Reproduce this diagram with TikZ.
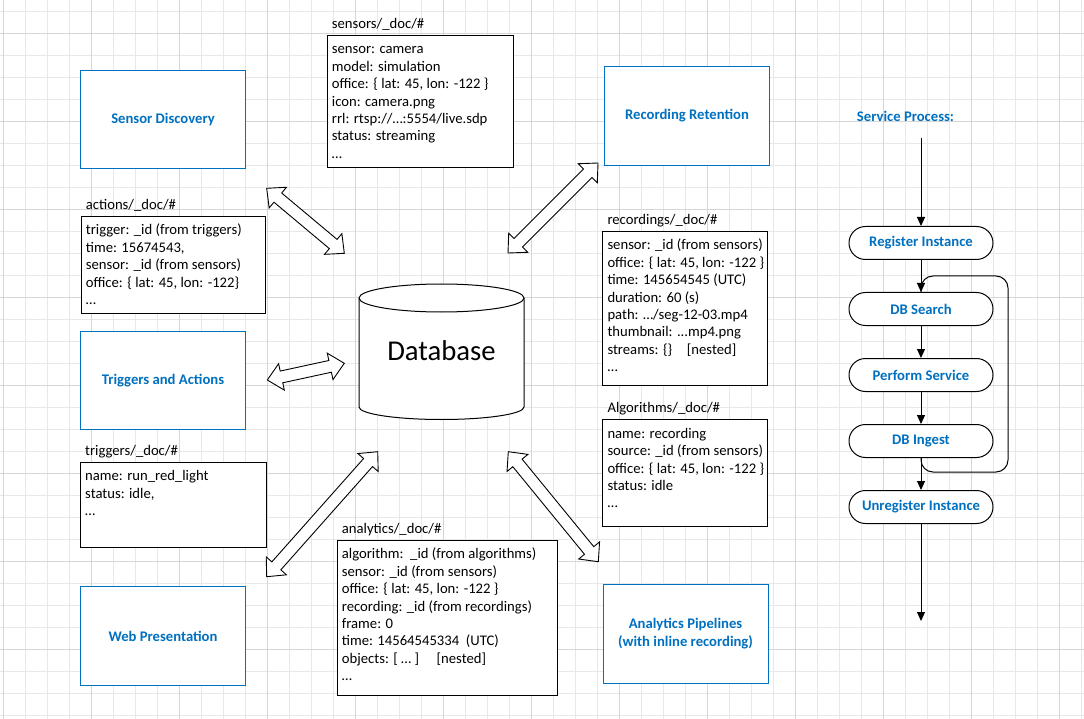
\documentclass[tikz,border=0pt]{standalone}
\usepackage{fontspec}
\setmainfont{Carlito}
\usetikzlibrary{calc,arrows.meta}
\definecolor{vblue}{RGB}{0,112,192}
\definecolor{gridminor}{RGB}{232,232,232}
\definecolor{gridmajor}{RGB}{214,214,214}
\newcommand{\firstl}{\rule{0pt}{13pt}}
\newcommand{\blockarrow}[2]{%
  \path ($(#1)!14.5pt!(#2)$) coordinate (ba1) ($(#2)!14.5pt!(#1)$) coordinate (ba2);
  \draw[blockarrowstyle] (#1)
    -- ($(ba1)!13.5pt!90:(#2)$) -- ($(ba1)!6pt!90:(#2)$)
    -- ($(ba2)!6pt!-90:(#1)$) -- ($(ba2)!13.5pt!-90:(#1)$)
    -- (#2)
    -- ($(ba2)!13.5pt!90:(#1)$) -- ($(ba2)!6pt!90:(#1)$)
    -- ($(ba1)!6pt!-90:(#2)$) -- ($(ba1)!13.5pt!-90:(#2)$)
    -- cycle;}
\begin{document}
\begin{tikzpicture}[x=1pt,y=-1pt,
  txt/.style={font=\fontsize{14.67pt}{17.4pt}\selectfont},
  doctitle/.style={txt,anchor=base west,inner sep=0pt},
  doccontent/.style={txt,anchor=north west,inner sep=0pt,align=left},
  docbox/.style={draw=black,line width=1pt,fill=white,anchor=north west,inner sep=0pt},
  bluebox/.style={draw=vblue,line width=1pt,fill=white,anchor=north west,inner sep=0pt,
    font=\fontsize{14.67pt}{18.4pt}\selectfont\bfseries,text=vblue,align=center},
  pill/.style={draw=black,line width=1pt,fill=white,rounded corners=16.5pt,
    minimum width=144pt,minimum height=33pt,inner sep=0pt,
    font=\fontsize{14.67pt}{17.4pt}\selectfont\bfseries,text=vblue},
  flow/.style={line width=1pt,-{Triangle[length=9pt,width=8pt]}},
  blockarrowstyle/.style={draw=black,fill=white,line width=0.9pt,line join=miter},
  gridline/.style={line width=0.8pt}
]
\useasboundingbox (0,0) rectangle (1084,719);
\fill[white] (0,0) rectangle (1084,719);
% grid
\foreach \i in {0,...,49} {\draw[gridline,gridminor] ({3.3+22*\i},0) -- ({3.3+22*\i},719);}
\foreach \j in {0,...,32} {\draw[gridline,gridminor] (0,{11.3+22*\j}) -- (1084,{11.3+22*\j});}
\foreach \i in {0,...,12} {\draw[gridline,gridmajor] ({3.3+88*\i},0) -- ({3.3+88*\i},719);}
\foreach \j in {0,...,7} {\draw[gridline,gridmajor] (0,{33.3+88*\j}) -- (1084,{33.3+88*\j});}

% blue service boxes
\node[bluebox,minimum width=165pt,minimum height=98pt] (sdisc) at (80,70) {Sensor Discovery};
\node[bluebox,minimum width=165pt,minimum height=98pt] (trig) at (80,331) {Triggers and Actions};
\node[bluebox,minimum width=165pt,minimum height=99pt] (web) at (80,586) {Web Presentation};
\node[bluebox,minimum width=165pt,minimum height=99pt] (ret) at (604,66) {Recording Retention};
\node[bluebox,minimum width=165pt,minimum height=99pt] (ana) at (602.5,583.5) {Analytics Pipelines\\(with inline recording)};

% sensors
\node[docbox,minimum width=186pt,minimum height=131.7pt] (sensB) at (326.7,35) {};
\node[doctitle] (sensT) at (331.7,28.4) {sensors/\_doc/\#};
\node[doccontent] (sensC) at (331.7,40.7) {\firstl sensor: camera\\model: simulation\\office: \{ lat: 45, lon: -122 \}\\icon: camera.png\\rrl: rtsp://…:5554/live.sdp\\status: streaming\\…};

% actions
\node[docbox,minimum width=184.6pt,minimum height=97.3pt] (actB) at (80.7,216) {};
\node[doctitle] (actT) at (85.7,209.4) {actions/\_doc/\#};
\node[doccontent] (actC) at (85.7,221.7) {\firstl trigger: \_id (from triggers)\\time: 15674543,\\sensor: \_id (from sensors)\\office: \{ lat: 45, lon: -122\}\\…};

% triggers
\node[docbox,minimum width=186pt,minimum height=85pt] (trgB) at (80,462) {};
\node[doctitle] (trgT) at (85,455.4) {triggers/\_doc/\#};
\node[doccontent] (trgC) at (85,467.7) {\firstl name: run\_red\_light\\status: idle,\\…};

% recordings
\node[docbox,minimum width=165pt,minimum height=154pt] (recB) at (602.3,231) {};
\node[doctitle] (recT) at (607.3,224.4) {recordings/\_doc/\#};
\node[doccontent] (recC) at (607.3,236.7) {\firstl sensor: \_id (from sensors)\\office: \{ lat: 45, lon: -122 \}\\time: 145654545 (UTC)\\duration: 60 (s)\\path: …/seg-12-03.mp4\\thumbnail: ...mp4.png\\streams: \{\}\hspace{1em}[nested]\\…};

% algorithms
\node[docbox,minimum width=165pt,minimum height=106.4pt] (algB) at (602.3,419.3) {};
\node[doctitle] (algT) at (607.3,412.7) {Algorithms/\_doc/\#};
\node[doccontent] (algC) at (607.3,425) {\firstl name: recording\\source: \_id (from sensors)\\office: \{ lat: 45, lon: -122 \}\\status: idle\\…};

% analytics
\node[docbox,minimum width=220pt,minimum height=155pt] (anlB) at (336.7,540) {};
\node[doctitle] (anlT) at (341.7,533.4) {analytics/\_doc/\#};
\node[doccontent] (anlC) at (341.7,545.7) {\firstl algorithm:\ \ \_id (from algorithms)\\sensor: \_id (from sensors)\\office: \{ lat: 45, lon: -122 \}\\recording: \_id (from recordings)\\frame: 0\\time: 14564545334\ \ (UTC)\\objects: [ … ]\hspace{1.2em}[nested]\\…};

% database cylinder
\filldraw[draw=black,fill=white,line width=1pt] (359,298) -- (359,407)
  arc[start angle=180,end angle=360,x radius=82.5pt,y radius=12.5pt] -- (524,298)
  arc[start angle=0,end angle=180,x radius=82.5pt,y radius=14pt] -- cycle;
\draw[line width=1pt] (359,298) arc[start angle=180,end angle=360,x radius=82.5pt,y radius=14pt];
\node[font=\fontsize{28.7pt}{34pt}\selectfont,inner sep=0pt] (db) at (441.5,351) {Database};

% block arrows
\coordinate (a1s) at (266.7,188.3); \coordinate (a1e) at (344.3,253.3);
\coordinate (a2s) at (267.3,380);   \coordinate (a2e) at (344.3,363.3);
\coordinate (a3s) at (266.7,576.7); \coordinate (a3e) at (377.7,451.7);
\coordinate (a4s) at (508.3,451.7); \coordinate (a4e) at (598.3,561.7);
\coordinate (a5s) at (508,253);     \coordinate (a5e) at (598,163);
\blockarrow{a1s}{a1e}
\blockarrow{a2s}{a2e}
\blockarrow{a3s}{a3e}
\blockarrow{a4s}{a4e}
\blockarrow{a5s}{a5e}

% service process
\node[font=\fontsize{14.67pt}{17.4pt}\selectfont\bfseries,text=vblue,inner sep=0pt] (sp) at (905.5,116) {Service Process:};
\coordinate (spstart) at (921,138);
\coordinate (spend) at (921,621);
\node[pill] (reg) at (921,243) {Register Instance};
\node[pill] (dbs) at (921,309) {DB Search};
\node[pill] (perf) at (921,375) {Perform Service};
\node[pill] (ing) at (921,441) {DB Ingest};
\node[pill] (unreg) at (921,507) {Unregister Instance};
\draw[line width=1pt,rounded corners=12pt] (ing.south) -- (921,472) -| (1008,276) -| (dbs.north);
\draw[flow] (spstart) -- (reg);
\draw[flow] (reg) -- (dbs);
\draw[flow] (dbs) -- (perf);
\draw[flow] (perf) -- (ing);
\draw[flow] (ing) -- (unreg);
\draw[flow] (unreg) -- (spend);
\end{tikzpicture}
\end{document}
